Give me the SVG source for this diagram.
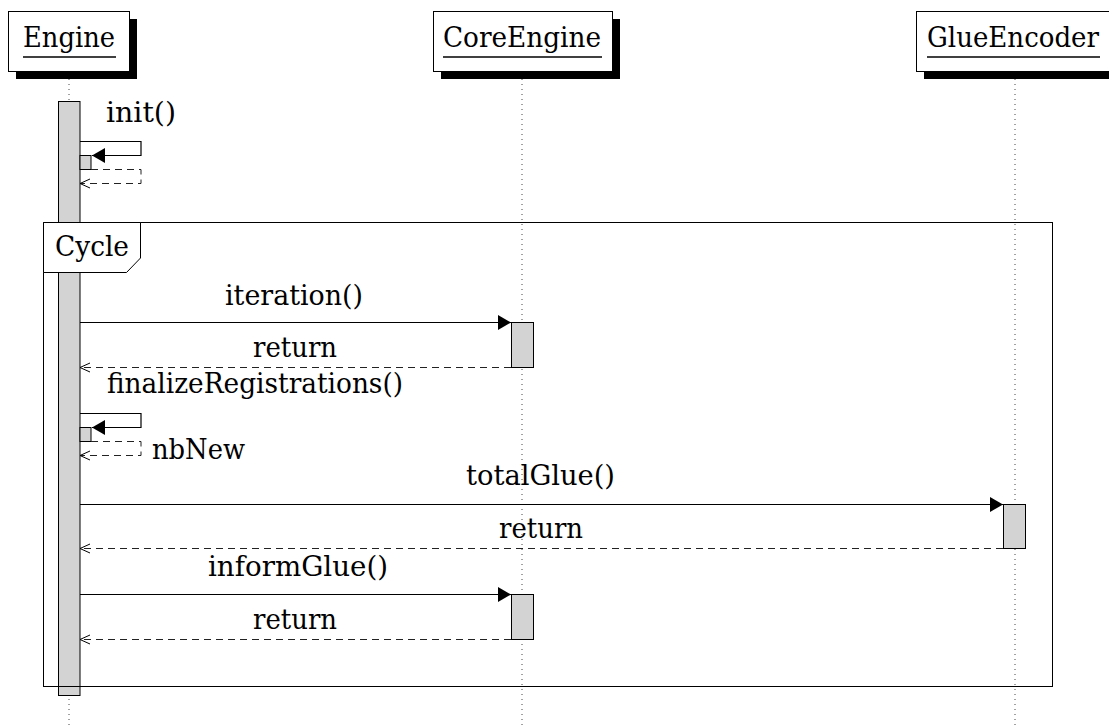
<svg xmlns="http://www.w3.org/2000/svg" width="1109" height="727" viewBox="0 0 1109 727">
<style>
  text { font-family: "DejaVu Serif", "Liberation Serif", serif; font-size: 28px; fill: #000; }
  .box { fill: #fff; stroke: #000; stroke-width: 1; }
  .shadow { fill: #000; }
  .ul { stroke: #000; stroke-width: 1.3; }
  .life { stroke: #444; stroke-width: 1; stroke-dasharray: 1 4; fill: none; }
  .act { fill: #d3d3d3; stroke: #000; stroke-width: 1; }
  .msg { stroke: #000; stroke-width: 1.2; fill: none; }
  .ret { stroke: #222; stroke-width: 1; fill: none; stroke-dasharray: 7 5; }
  .frame { fill: none; stroke: #000; stroke-width: 1; }
</style>
<defs>
  <marker id="filled" markerWidth="14" markerHeight="16" refX="13" refY="7.5" orient="auto" markerUnits="userSpaceOnUse">
    <path d="M0,0 L13,7.5 L0,15 z" fill="#000"/>
  </marker>
  <marker id="open" markerWidth="12" markerHeight="12" refX="11" refY="6" orient="auto" markerUnits="userSpaceOnUse">
    <path d="M1,1.5 L11,6 L1,10.5" fill="none" stroke="#000" stroke-width="1"/>
  </marker>
</defs>
<rect width="1109" height="727" fill="#fff"/>

<g id="lifelines">
  <line class="life" x1="69" y1="79" x2="69" y2="727"/>
  <line class="life" x1="522" y1="79" x2="522" y2="727"/>
  <line class="life" x1="1015" y1="79" x2="1015" y2="727"/>
</g>

<g id="Engine">
  <rect class="shadow" x="16" y="19" width="121" height="60"/>
  <rect class="box" x="8.5" y="11.5" width="121" height="60"/>
  <text x="23" y="47" textLength="92" lengthAdjust="spacingAndGlyphs">Engine</text>
  <line class="ul" x1="23" y1="57" x2="116" y2="57"/>
</g>
<g id="CoreEngine">
  <rect class="shadow" x="441" y="19" width="179" height="60"/>
  <rect class="box" x="433.5" y="11.5" width="179" height="60"/>
  <text x="443" y="47" textLength="158" lengthAdjust="spacingAndGlyphs">CoreEngine</text>
  <line class="ul" x1="443" y1="57" x2="602" y2="57"/>
</g>
<g id="GlueEncoder">
  <rect class="shadow" x="924" y="19" width="200" height="60"/>
  <rect class="box" x="916.5" y="11.5" width="200" height="60"/>
  <text x="927" y="47" textLength="172" lengthAdjust="spacingAndGlyphs">GlueEncoder</text>
  <line class="ul" x1="927" y1="57" x2="1100" y2="57"/>
</g>

<g id="activations">
  <rect class="act" x="58.5" y="101.5" width="21.5" height="594"/>
  <rect class="act" x="80" y="155.5" width="11" height="14"/>
  <rect class="act" x="80" y="427.5" width="11" height="14"/>
  <rect class="act" x="511.5" y="322.5" width="22" height="45"/>
  <rect class="act" x="1003.5" y="504.5" width="22" height="44"/>
  <rect class="act" x="511.5" y="594.5" width="22" height="45"/>
</g>

<g id="Cycle">
  <rect class="frame" x="43.5" y="222.5" width="1009" height="464"/>
  <polygon points="43.5,222.5 140.5,222.5 140.5,258 126.5,272.5 43.5,272.5" fill="#fff" stroke="#000" stroke-width="1"/>
  <text x="55" y="256" textLength="74" lengthAdjust="spacingAndGlyphs">Cycle</text>
</g>

<g id="connectors">
  <path class="msg" d="M80,141.5 H141 V155.5 H92" marker-end="url(#filled)"/>
  <path class="ret" d="M91,169.5 H141 V183.5 H80" marker-end="url(#open)"/>
  <line class="msg" x1="80" y1="322.5" x2="511" y2="322.5" marker-end="url(#filled)"/>
  <line class="ret" x1="511" y1="367.5" x2="80" y2="367.5" marker-end="url(#open)"/>
  <path class="msg" d="M80,413.5 H141 V427.5 H92" marker-end="url(#filled)"/>
  <path class="ret" d="M91,441.5 H141 V455.5 H80" marker-end="url(#open)"/>
  <line class="msg" x1="80" y1="504.5" x2="1003" y2="504.5" marker-end="url(#filled)"/>
  <line class="ret" x1="1003" y1="548.5" x2="80" y2="548.5" marker-end="url(#open)"/>
  <line class="msg" x1="80" y1="594.5" x2="511" y2="594.5" marker-end="url(#filled)"/>
  <line class="ret" x1="511" y1="639.5" x2="80" y2="639.5" marker-end="url(#open)"/>
</g>

<g id="labels">
  <text x="106" y="122" textLength="70" lengthAdjust="spacingAndGlyphs">init()</text>
  <text x="225" y="305" textLength="138" lengthAdjust="spacingAndGlyphs">iteration()</text>
  <text x="253" y="357" textLength="84" lengthAdjust="spacingAndGlyphs">return</text>
  <text x="107" y="393" textLength="296" lengthAdjust="spacingAndGlyphs">finalizeRegistrations()</text>
  <text x="152" y="459" textLength="93" lengthAdjust="spacingAndGlyphs">nbNew</text>
  <text x="466" y="485" textLength="149" lengthAdjust="spacingAndGlyphs">totalGlue()</text>
  <text x="499" y="538" textLength="84" lengthAdjust="spacingAndGlyphs">return</text>
  <text x="208" y="576" textLength="180" lengthAdjust="spacingAndGlyphs">informGlue()</text>
  <text x="253" y="629" textLength="84" lengthAdjust="spacingAndGlyphs">return</text>
</g>
</svg>
